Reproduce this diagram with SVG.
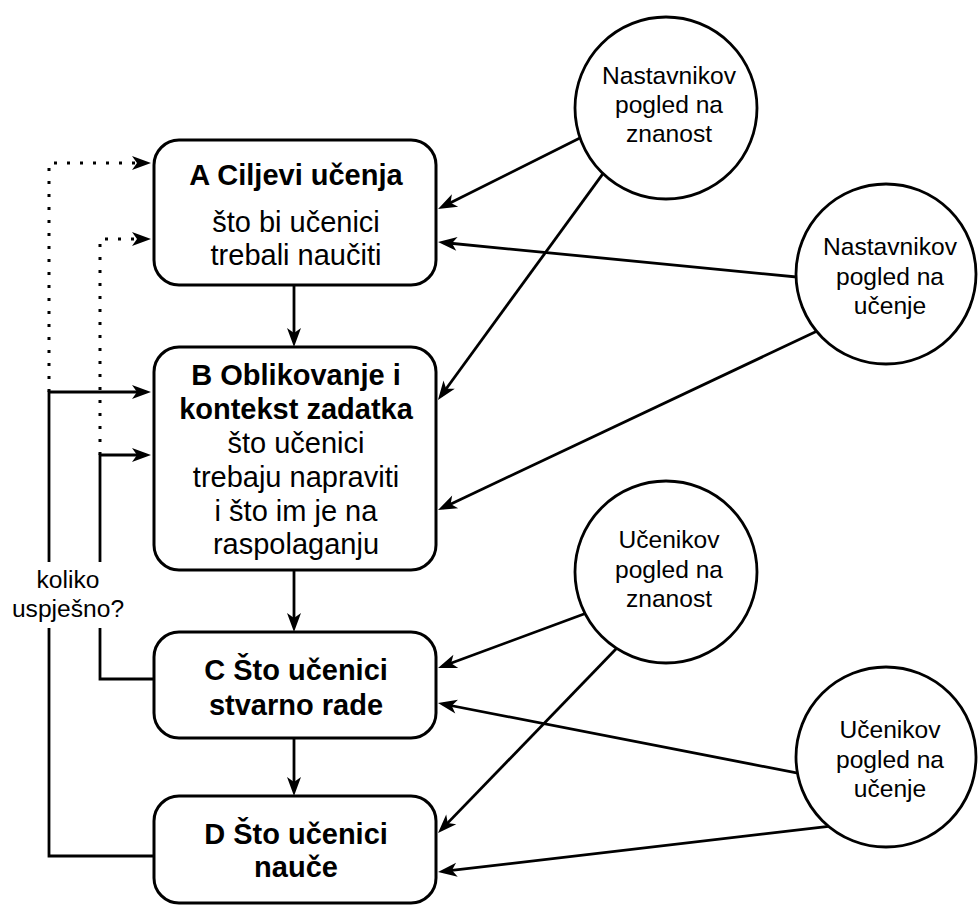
<svg xmlns="http://www.w3.org/2000/svg" width="979" height="906" viewBox="0 0 979 906">
<style>
.box{fill:#fff;stroke:#000;stroke-width:3}
.circ{fill:#fff;stroke:#000;stroke-width:2.8}
.ln{fill:none;stroke:#000;stroke-width:2.8}
.dot{fill:none;stroke:#000;stroke-width:3;stroke-dasharray:3 10}
text{font-family:"Liberation Sans",Arial,sans-serif;fill:#000;text-anchor:middle}
.t{font-weight:bold;font-size:29px}
.b{font-size:29px}
.c{font-size:24.6px}
</style>
<defs>
<marker id="ah" viewBox="-16 -8 22 16" refX="0" refY="0" markerWidth="22" markerHeight="16" orient="auto" markerUnits="userSpaceOnUse">
<path d="M5,0 L-14,-7 L-9,0 L-14,7 Z" fill="#000"/>
</marker>
</defs>
<rect width="979" height="906" fill="#fff"/>
<g id="connectors">
<path class="ln" d="M294,285 V342" marker-end="url(#ah)"/>
<path class="ln" d="M294,570 V627" marker-end="url(#ah)"/>
<path class="ln" d="M294,738 V791" marker-end="url(#ah)"/>
<path class="ln" d="M154,856 H49 V628"/>
<path class="ln" d="M49,562 V392 H146" marker-end="url(#ah)"/>
<path class="ln" d="M154,679 H100 V628"/>
<path class="ln" d="M100,562 V455 H146" marker-end="url(#ah)"/>
<path class="dot" d="M49,392 V163 H142"/>
<path class="dot" d="M100,455 V239 H142"/>
<path d="M151,163 L132,156 L137,163 L132,170 Z" fill="#000"/>
<path d="M151,239 L132,232 L137,239 L132,246 Z" fill="#000"/>
<path class="ln" d="M588.9,133.5 L442.5,206.8" marker-end="url(#ah)"/>
<path class="ln" d="M807,278 L443,242.5" marker-end="url(#ah)"/>
<path class="ln" d="M607.9,166.9 L440.9,396" marker-end="url(#ah)"/>
<path class="ln" d="M822,328.7 L442.5,507.9" marker-end="url(#ah)"/>
<path class="ln" d="M593.4,610.5 L442.7,666.3" marker-end="url(#ah)"/>
<path class="ln" d="M806.8,774.9 L442.9,704" marker-end="url(#ah)"/>
<path class="ln" d="M622,642.8 L441.5,829.4" marker-end="url(#ah)"/>
<path class="ln" d="M832.9,825.8 L443,871.4" marker-end="url(#ah)"/>
</g>
<g id="nodeA">
<rect class="box" x="154" y="140" width="282" height="145" rx="25"/>
<text class="t" x="296" y="185">A Ciljevi učenja</text>
<text class="b" x="296" y="232">što bi učenici</text>
<text class="b" x="296" y="265">trebali naučiti</text>
</g>
<g id="nodeB">
<rect class="box" x="154" y="347" width="282" height="223" rx="25"/>
<text class="t" x="296" y="385">B Oblikovanje i</text>
<text class="t" x="296" y="418.5">kontekst zadatka</text>
<text class="b" x="296" y="453">što učenici</text>
<text class="b" x="296" y="487">trebaju napraviti</text>
<text class="b" x="296" y="521">i što im je na</text>
<text class="b" x="296" y="554">raspolaganju</text>
</g>
<g id="nodeC">
<rect class="box" x="154" y="632" width="282" height="106" rx="25"/>
<text class="t" x="296" y="680">C Što učenici</text>
<text class="t" x="296" y="715">stvarno rade</text>
</g>
<g id="nodeD">
<rect class="box" x="154" y="796" width="282" height="107" rx="25"/>
<text class="t" x="296" y="844">D Što učenici</text>
<text class="t" x="296" y="877">nauče</text>
</g>
<g id="label">
<text class="c" x="68" y="588">koliko</text>
<text class="c" x="68" y="617">uspješno?</text>
</g>
<g id="circle1">
<circle class="circ" cx="666" cy="108" r="91"/>
<text class="c" x="669" y="84">Nastavnikov</text>
<text class="c" x="669" y="113">pogled na</text>
<text class="c" x="669" y="142">znanost</text>
</g>
<g id="circle2">
<circle class="circ" cx="886" cy="274" r="90"/>
<text class="c" x="890" y="255">Nastavnikov</text>
<text class="c" x="890" y="284.5">pogled na</text>
<text class="c" x="890" y="314">učenje</text>
</g>
<g id="circle3">
<circle class="circ" cx="666" cy="572" r="91"/>
<text class="c" x="669" y="548">Učenikov</text>
<text class="c" x="669" y="577.5">pogled na</text>
<text class="c" x="669" y="607">znanost</text>
</g>
<g id="circle4">
<circle class="circ" cx="886" cy="757" r="90"/>
<text class="c" x="890" y="738">Učenikov</text>
<text class="c" x="890" y="767.5">pogled na</text>
<text class="c" x="890" y="797">učenje</text>
</g>
</svg>
